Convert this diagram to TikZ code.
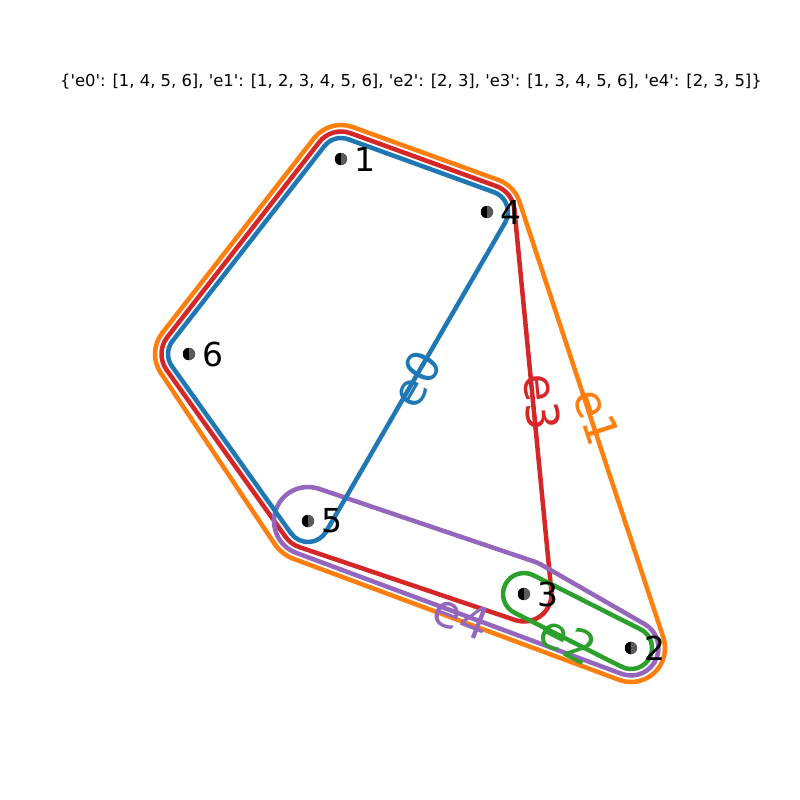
\documentclass[tikz,border=0pt]{standalone}
\usepackage{fontspec}
\setmainfont{DejaVu Sans}[Ligatures=TeXOff]
\usetikzlibrary{calc}
\definecolor{tabblue}{HTML}{1F77B4}
\definecolor{taborange}{HTML}{FF7F0E}
\definecolor{tabgreen}{HTML}{2CA02C}
\definecolor{tabred}{HTML}{D62728}
\definecolor{tabpurple}{HTML}{9467BD}
\definecolor{markgray}{HTML}{5A5A5A}
% tangent segment between circle A (radius rA) and circle B (radius rB), hull on the left
\newcommand{\hseg}[5]{%
  \draw[#1] let \p1=($(#4)-(#2)$),
    \n1={atan2(\y1,\x1)-90+asin((#3-#5)/veclen(\x1,\y1))} in
    ($(#2)+(\n1:#3pt)$) -- ($(#4)+(\n1:#5pt)$);}
% arc round vertex V between incoming (from P) and outgoing (to N) tangents
\newcommand{\harc}[7]{%
  \draw[#1] let \p1=($(#4)-(#2)$), \p2=($(#6)-(#4)$),
    \n1={atan2(\y1,\x1)-90+asin((#3-#5)/veclen(\x1,\y1))},
    \n2={atan2(\y2,\x2)-90+asin((#5-#7)/veclen(\x2,\y2))},
    \n3={mod(\n2-\n1+720,360)} in
    ($(#4)+(\n1:#5pt)$) arc[start angle=\n1, delta angle=\n3, radius=#5pt];}
\begin{document}
\begin{tikzpicture}[x=1pt,y=-1pt,
  lnblue/.style={draw=tabblue,line width=4.5pt,line cap=round},
  lnorange/.style={draw=taborange,line width=4.5pt,line cap=round},
  lngreen/.style={draw=tabgreen,line width=4.5pt,line cap=round},
  lnred/.style={draw=tabred,line width=4.5pt,line cap=round},
  lnpurple/.style={draw=tabpurple,line width=4.5pt,line cap=round},
  vert/.style={circle,minimum size=12.5pt,inner sep=0pt,fill=markgray,
    path picture={\fill[black] (path picture bounding box.north) rectangle (path picture bounding box.south west);}},
  vlab/.style={anchor=west,inner sep=0pt,font=\fontsize{33}{33}\selectfont},
  elab/.style={inner sep=0pt,font=\fontsize{45}{45}\selectfont}]
\useasboundingbox (0,0) rectangle (800,800);
\fill[white] (0,0) rectangle (800,800);
% node centres
\coordinate (c1) at (341,159);
\coordinate (c2) at (631,648);
\coordinate (c3) at (524,594);
\coordinate (c4) at (487,212);
\coordinate (c5) at (308,521);
\coordinate (c6) at (189,354);
% e1 (orange): 1,6,5,2,4
\hseg{lnorange}{c1}{34}{c6}{34}
\hseg{lnorange}{c6}{34}{c5}{40.5}
\hseg{lnorange}{c5}{40.5}{c2}{34}
\hseg{lnorange}{c2}{34}{c4}{34}
\hseg{lnorange}{c4}{34}{c1}{34}
\harc{lnorange}{c4}{34}{c1}{34}{c6}{34}
\harc{lnorange}{c1}{34}{c6}{34}{c5}{40.5}
\harc{lnorange}{c6}{34}{c5}{40.5}{c2}{34}
\harc{lnorange}{c5}{40.5}{c2}{34}{c4}{34}
\harc{lnorange}{c2}{34}{c4}{34}{c1}{34}
% e3 (red): 1,6,5,3,4
\hseg{lnred}{c1}{27.5}{c6}{27.5}
\hseg{lnred}{c6}{27.5}{c5}{27.5}
\hseg{lnred}{c5}{27.5}{c3}{27.5}
\hseg{lnred}{c3}{27.5}{c4}{27.5}
\hseg{lnred}{c4}{27.5}{c1}{27.5}
\harc{lnred}{c4}{27.5}{c1}{27.5}{c6}{27.5}
\harc{lnred}{c1}{27.5}{c6}{27.5}{c5}{27.5}
\harc{lnred}{c6}{27.5}{c5}{27.5}{c3}{27.5}
\harc{lnred}{c5}{27.5}{c3}{27.5}{c4}{27.5}
\harc{lnred}{c3}{27.5}{c4}{27.5}{c1}{27.5}
% e4 (purple): 5,2,3
\hseg{lnpurple}{c5}{34}{c2}{27.5}
\hseg{lnpurple}{c2}{27.5}{c3}{34}
\hseg{lnpurple}{c3}{34}{c5}{34}
\harc{lnpurple}{c3}{34}{c5}{34}{c2}{27.5}
\harc{lnpurple}{c5}{34}{c2}{27.5}{c3}{34}
\harc{lnpurple}{c2}{27.5}{c3}{34}{c5}{34}
% e0 (blue): 1,6,5,4
\hseg{lnblue}{c1}{21}{c6}{21}
\hseg{lnblue}{c6}{21}{c5}{21}
\hseg{lnblue}{c5}{21}{c4}{21}
\hseg{lnblue}{c4}{21}{c1}{21}
\harc{lnblue}{c4}{21}{c1}{21}{c6}{21}
\harc{lnblue}{c1}{21}{c6}{21}{c5}{21}
\harc{lnblue}{c6}{21}{c5}{21}{c4}{21}
\harc{lnblue}{c5}{21}{c4}{21}{c1}{21}
% e2 (green): 3,2
\hseg{lngreen}{c3}{21}{c2}{21}
\hseg{lngreen}{c2}{21}{c3}{21}
\harc{lngreen}{c3}{21}{c2}{21}{c3}{21}
\harc{lngreen}{c2}{21}{c3}{21}{c2}{21}
% vertices
\foreach \i in {1,...,6} {\node[vert] (v\i) at (c\i) {};}
\node[vlab] (l1) at ($(v1)+(13,0)$) {1};
\node[vlab] (l2) at ($(v2)+(13,0)$) {2};
\node[vlab] (l3) at ($(v3)+(13,0)$) {3};
\node[vlab] (l4) at ($(v4)+(13,0)$) {4};
\node[vlab] (l5) at ($(v5)+(13,0)$) {5};
\node[vlab] (l6) at ($(v6)+(13,0)$) {6};
% edge labels
\node[elab,text=tabblue,rotate=60.1] (le0) at (416,379) {e0};
\node[elab,text=tabred,rotate=-84.5] (le3) at (542,402) {e3};
\node[elab,text=taborange,rotate=-71.7] (le1) at (597,417) {e1};
\node[elab,text=tabpurple,rotate=-21.5] (le4) at (462,617) {e4};
\node[elab,text=tabgreen,rotate=-26.8] (le2) at (568,640) {e2};
% title
\node[inner sep=0pt,font=\fontsize{16.4}{20}\selectfont] (title) at (411,82)
  {\{'e0': [1, 4, 5, 6], 'e1': [1, 2, 3, 4, 5, 6], 'e2': [2, 3], 'e3': [1, 3, 4, 5, 6], 'e4': [2, 3, 5]\}};
\end{tikzpicture}
\end{document}
